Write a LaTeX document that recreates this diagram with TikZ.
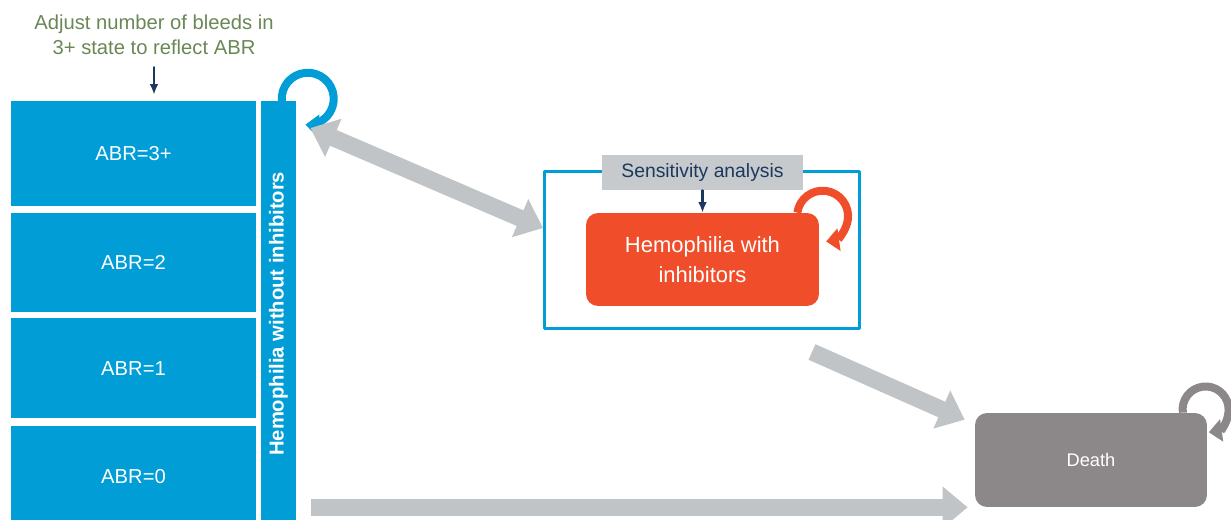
\documentclass[tikz,border=0pt]{standalone}
\usepackage{fontspec}
\setmainfont{Liberation Sans}
\usetikzlibrary{arrows.meta, positioning}
\definecolor{hemoblue}{RGB}{0,157,214}
\definecolor{inhibred}{RGB}{240,78,43}
\definecolor{flowgray}{RGB}{192,196,198}
\definecolor{labelgray}{RGB}{198,202,204}
\definecolor{deathgray}{RGB}{140,135,137}
\definecolor{navyblue}{RGB}{28,56,94}
\definecolor{notegreen}{RGB}{106,135,86}

\begin{document}
\begin{tikzpicture}[x=0.02cm, y=-0.02cm, >=Latex, line cap=round, line join=round,
	abrbox/.style={fill=hemoblue, text=white, minimum width=4.9cm, minimum height=2cm,
		inner sep=0pt, font=\fontsize{11.5}{13}\selectfont},
	flowtip/.tip={Triangle[length=0.5cm, width=0.8cm]},
	fatflow/.style={draw=flowgray, line width=0.34cm, line cap=butt},
	selfloop/.style={line width=0.16cm, line cap=butt, -{Triangle[length=0.26cm, width=0.44cm]}},
	navyarrow/.style={draw=navyblue, line width=1.2pt, -{Latex[length=6pt, width=5pt]}}]
	
	\useasboundingbox (0,0) rectangle (1231,520);
	
	%========================
	% Left: states without inhibitors
	%========================
	\node[align=center, text=notegreen, font=\fontsize{11.5}{14.2}\selectfont] (note) at (154,35)
	{Adjust number of bleeds in\\3+ state to reflect ABR};
	
	\node[abrbox, minimum height=2.1cm] (abrthree) at (133.5,153.5) {ABR=3+};
	\node[abrbox, minimum height=1.98cm, below=0.12cm of abrthree] (abrtwo) {ABR=2};
	\node[abrbox, below=0.12cm of abrtwo] (abrone) {ABR=1};
	\node[abrbox, below=0.14cm of abrone] (abrzero) {ABR=0};
	
	% vertical bar
	\node[fill=hemoblue, text=white, minimum width=0.7cm, minimum height=8.5cm, inner sep=0pt,
	anchor=north, font=\fontsize{11.5}{13}\selectfont\bfseries] (hwo) at (278.5,101)
	{\rotatebox{90}{Hemophilia without inhibitors}};
	
	\draw[navyarrow, shorten >=0.12cm] ([yshift=-0.12cm]note.south) -- (note.south |- abrthree.north);
	\draw[selfloop, hemoblue] ([xshift=-0.29cm]hwo.north east)
	arc[start angle=185, end angle=-95, radius=0.52cm];
	
	%========================
	% Middle: sensitivity analysis
	%========================
	\node[draw=hemoblue, line width=0.06cm, minimum width=6.3cm, minimum height=3.14cm] (sens) at (702,250) {};
	\node[fill=labelgray, text=navyblue, minimum width=4.02cm, minimum height=0.7cm, inner sep=0pt,
	font=\fontsize{11}{13}\selectfont] (senslabel) at (702.5,172.5) {Sensitivity analysis};
	\node[fill=inhibred, text=white, rounded corners=0.24cm, minimum width=4.66cm, minimum height=1.86cm,
	align=center, font=\fontsize{12.5}{17}\selectfont] (hwi) at (702.5,259.5) {Hemophilia with\\inhibitors};
	
	\draw[navyarrow] (senslabel.south) -- (hwi.north);
	\draw[selfloop, inhibred] ([xshift=-0.44cm]hwi.north east)
	arc[start angle=172, end angle=-82, radius=0.51cm];
	
	%========================
	% Right: death
	%========================
	\node[fill=deathgray, text=white, rounded corners=0.24cm, minimum width=4.64cm, minimum height=1.88cm,
	font=\fontsize{10.4}{12}\selectfont] (death) at (1091,460) {Death};
	\draw[selfloop, deathgray] ([xshift=-0.49cm]death.north east)
	arc[start angle=188, end angle=-82, radius=0.46cm];
	
	% transitions
	\draw[fatflow, flowtip-flowtip] ([shift={(14,27)}]hwo.north east) -- ([yshift=0.44cm]sens.west);
	\draw[fatflow, -flowtip] ([shift={(-49,22)}]sens.south east) -- ([shift={(-10,7)}]death.north west);
	\draw[fatflow, -flowtip] (hwo.east |- death.south) ++(15,0) -- ([xshift=-0.14cm]death.south west);
	
\end{tikzpicture}
\end{document}
